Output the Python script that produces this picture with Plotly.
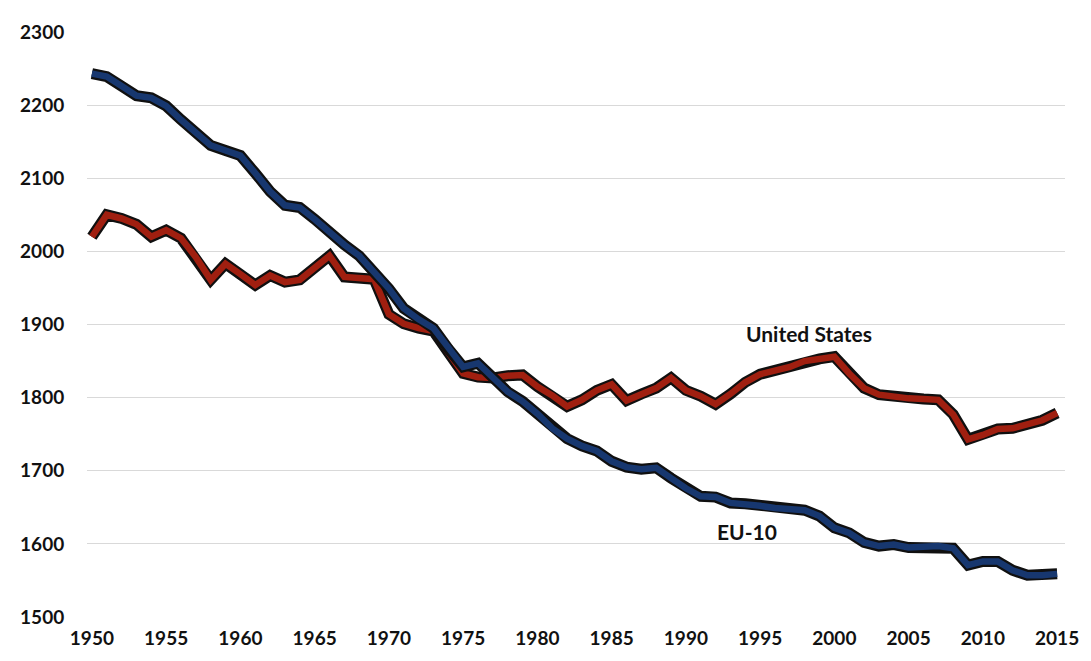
import plotly.graph_objects as go

years = list(range(1950, 2016))

us_hours = [2020, 2050, 2045, 2037, 2020, 2029, 2018, 1992, 1961, 1983,
            1969, 1954, 1967, 1958, 1961, 1977, 1994, 1965, 1963, 1962,
            1914, 1901, 1895, 1891, 1862, 1833, 1828, 1827, 1830, 1831,
            1815, 1803, 1788, 1797, 1810, 1818, 1796, 1805, 1813, 1827,
            1810, 1802, 1791, 1805, 1821, 1832, 1837, 1842, 1850, 1853,
            1856, 1833, 1813, 1804, 1801, 1799, 1798, 1797, 1777, 1743,
            1749, 1757, 1758, 1763, 1769, 1779]

eu_hours = [2243, 2239, 2226, 2213, 2210, 2199, 2180, 2162, 2145, 2138,
            2131, 2107, 2082, 2063, 2060, 2044, 2025, 2009, 1994, 1972,
            1949, 1922, 1907, 1895, 1867, 1842, 1847, 1826, 1808, 1795,
            1778, 1758, 1744, 1734, 1727, 1713, 1705, 1702, 1704, 1690,
            1676, 1665, 1664, 1656, 1655, 1652, 1649, 1647, 1646, 1638,
            1622, 1615, 1602, 1597, 1599, 1595, 1595, 1597, 1594, 1571,
            1576, 1576, 1564, 1557, 1557, 1559]

y_ticks = [1500, 1600, 1700, 1800, 1900, 2000, 2100, 2200, 2300]
x_ticks = list(range(1950, 2016, 5))

font_family = "Lato, 'Open Sans', 'Liberation Sans', sans-serif"

fig = go.Figure()
for vals, color, name in [(us_hours, "#a01f10", "United States"), (eu_hours, "#17376f", "EU-10")]:
    fig.add_trace(go.Scatter(x=years, y=vals, mode="lines", name=name + " outline",
                             line=dict(color="#101010", width=11), hoverinfo="skip",
                             showlegend=False))
    fig.add_trace(go.Scatter(x=years, y=vals, mode="lines", name=name,
                             line=dict(color=color, width=6.5), showlegend=False))

fig.add_annotation(x=1998.3, y=1888, text="<b>United States</b>", showarrow=False,
                   font=dict(family=font_family, size=21, color="#111111"))
fig.add_annotation(x=1994.1, y=1617, text="<b>EU-10</b>", showarrow=False,
                   font=dict(family=font_family, size=21, color="#111111"))

fig.update_layout(
    width=1083, height=653,
    margin=dict(l=73, r=21, t=21, b=44),
    paper_bgcolor="white", plot_bgcolor="white",
    font=dict(family=font_family, size=19, color="#111111"),
    showlegend=False,
)
fig.update_xaxes(range=[1949.67, 2015.53], tickvals=x_ticks,
                 ticktext=[f"<b>{t}</b>" for t in x_ticks],
                 showgrid=False, zeroline=False, showline=False,
                 ticks="outside", ticklen=4, tickcolor="rgba(0,0,0,0)",
                 tickfont=dict(family=font_family, size=19, color="#111111"))
fig.update_yaxes(range=[1500, 2300], tickvals=y_ticks,
                 ticktext=[f"<b>{t}</b>" for t in y_ticks],
                 showgrid=True, gridcolor="#d9d9d9", gridwidth=1,
                 zeroline=False, showline=False,
                 ticks="outside", ticklen=18, tickcolor="rgba(0,0,0,0)",
                 tickfont=dict(family=font_family, size=19, color="#111111"))

fig.write_html("out.html")
